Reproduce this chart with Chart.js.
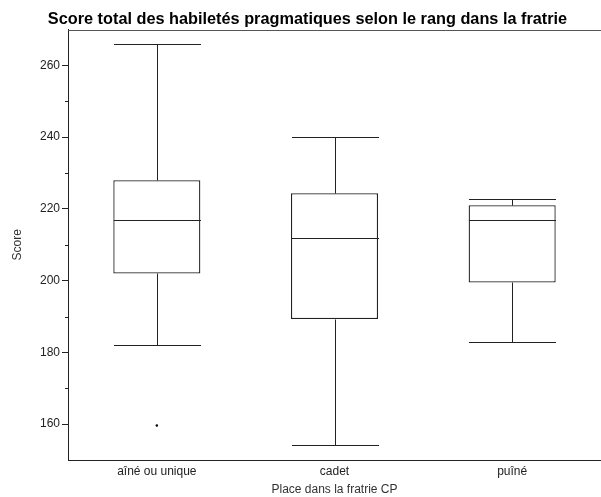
<!DOCTYPE html>
<html>
<head>
<meta charset="utf-8">
<script src="https://cdn.jsdelivr.net/npm/chart.js@4/dist/chart.umd.min.js"></script>
<style>
  html, body { margin: 0; padding: 0; background: #fff; }
  #wrap { width: 601px; height: 497px; }
</style>
</head>
<body>
<div id="wrap"><canvas id="chart"></canvas></div>
<script>
Chart.defaults.font.family = '"Liberation Sans", Arial, sans-serif';
Chart.defaults.color = '#333';

const categories = ['aîné ou unique', 'cadet', 'puîné'];
const minima = [182, 154.2, 182.8];
const q1 = [202, 189.3, 199.5];
const medians = [217, 212, 217];
const q3 = [228, 224.4, 221];
const maxima = [266, 240, 222.8];
const outliers = [[159.6], [], []];
const yTicks = [160, 180, 200, 220, 240, 260];
const yMinorTicks = [170, 190, 210, 230, 250];

// box = floating bar from q1 to q3, whiskers/medians drawn by plugin
const boxplotLines = {
  id: 'boxplotLines',
  afterDatasetsDraw(chart) {
    const ctx = chart.ctx;
    const x = chart.scales.x;
    const y = chart.scales.y;
    const area = chart.chartArea;
    const meta = chart.getDatasetMeta(0);
    ctx.save();
    ctx.strokeStyle = '#222';
    ctx.lineWidth = 1;
    categories.forEach((c, i) => {
      const cx = Math.round(x.getPixelForValue(i)) + 0.5;
      const half = meta.data[i].width / 2;
      const line = (x1, y1, x2, y2) => {
        ctx.beginPath();
        ctx.moveTo(x1, y1);
        ctx.lineTo(x2, y2);
        ctx.stroke();
      };
      const py = v => Math.round(y.getPixelForValue(v)) + 0.5;
      line(cx - half, py(medians[i]), cx + half, py(medians[i]));
      line(cx, py(q3[i]), cx, py(maxima[i]));
      line(cx, py(q1[i]), cx, py(minima[i]));
      line(cx - half, py(maxima[i]), cx + half, py(maxima[i]));
      line(cx - half, py(minima[i]), cx + half, py(minima[i]));
    });
    // minor ticks on the y axis
    yMinorTicks.forEach(v => {
      const p = Math.round(y.getPixelForValue(v)) + 0.5;
      ctx.beginPath();
      ctx.moveTo(area.left - 3, p);
      ctx.lineTo(area.left, p);
      ctx.stroke();
    });
    // top border of the plot
    ctx.strokeStyle = '#555';
    ctx.beginPath();
    ctx.moveTo(area.left, Math.round(area.top) + 0.5);
    ctx.lineTo(area.right + 5, Math.round(area.top) + 0.5);
    ctx.stroke();
    ctx.restore();
  }
};

const outlierPoints = [];
outliers.forEach((list, i) => list.forEach(v => outlierPoints.push({x: i, y: v})));

new Chart('chart', {
  type: 'bar',
  data: {
    labels: categories,
    datasets: [
      {
        data: categories.map((c, i) => [q1[i], q3[i]]),
        backgroundColor: '#fff',
        borderColor: '#222',
        borderWidth: 1.3,
        borderSkipped: false,
        categoryPercentage: 1,
        barPercentage: 0.49
      },
      {
        type: 'scatter',
        data: outlierPoints,
        pointRadius: 1.2,
        pointBackgroundColor: '#000',
        pointBorderWidth: 0
      }
    ]
  },
  options: {
    responsive: true,
    maintainAspectRatio: false,
    animation: false,
    layout: { autoPadding: false, padding: { left: 10, right: -4, top: 0, bottom: 0 } },
    plugins: {
      legend: { display: false },
      tooltip: { enabled: false },
      title: {
        display: true,
        text: 'Score total des habiletés pragmatiques selon le rang dans la fratrie',
        color: '#000',
        font: { size: 16.3, weight: 'bold' },
        padding: { top: 10, bottom: 0 }
      }
    },
    scales: {
      x: {
        type: 'category',
        offset: true,
        grid: { display: false, drawTicks: false },
        border: { display: true, color: '#222', width: 1 },
        ticks: { color: '#222', font: { size: 12 }, padding: 4 },
        title: { display: true, text: 'Place dans la fratrie CP', color: '#333', font: { size: 12 }, padding: { top: 3, bottom: 0 } },
        afterFit: s => { s.height = 37; s.paddingLeft = 0; s.paddingRight = 0; }
      },
      y: {
        min: 150,
        max: 270,
        afterBuildTicks: s => { s.ticks = yTicks.map(v => ({ value: v })); },
        grid: { drawOnChartArea: false, drawTicks: true, tickLength: 6, color: '#222' },
        border: { display: true, color: '#222', width: 1 },
        ticks: { color: '#222', font: { size: 12 }, padding: 2 },
        title: { display: true, text: 'Score', color: '#333', font: { size: 12 }, padding: 0 },
        afterFit: s => { s.width = 58; }
      }
    }
  },
  plugins: [boxplotLines]
});
</script>
</body>
</html>
